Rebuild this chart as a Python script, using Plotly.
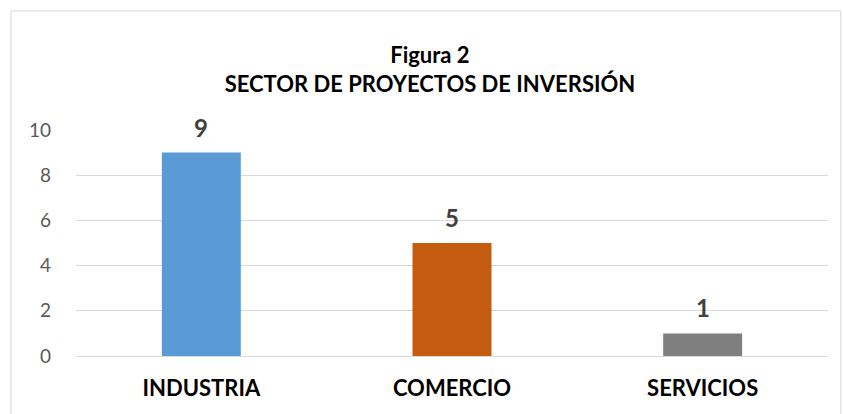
import plotly.graph_objects as go

# data
sectores = ["INDUSTRIA", "COMERCIO", "SERVICIOS"]
proyectos = [9, 5, 1]
colores = ["#5B9BD5", "#C55A11", "#7F7F7F"]
y_ticks = [0, 2, 4, 6, 8, 10]

FONT = "Lato, 'Open Sans', sans-serif"

fig = go.Figure(go.Bar(
    x=sectores,
    y=proyectos,
    marker=dict(color=colores, line=dict(width=0)),
    hoverinfo="x+y",
))

# value labels above bars (Excel leaves a wider gap than plotly's outside text)
for s, v in zip(sectores, proyectos):
    fig.add_annotation(
        x=s, y=v, text=str(v), showarrow=False,
        yanchor="bottom", yshift=9,
        font=dict(family=FONT, size=24, color="#404040", weight="bold"),
    )

fig.update_layout(
    width=843,
    height=414,
    margin=dict(l=76, r=15, t=130, b=58, autoexpand=False),
    paper_bgcolor="white",
    plot_bgcolor="white",
    showlegend=False,
    bargap=0.685,
    title=dict(
        text="Figura 2<br>SECTOR DE PROYECTOS DE INVERSIÓN",
        x=0.51, xanchor="center",
        y=1 - 63 / 414, yanchor="middle", yref="container",
        font=dict(family=FONT, size=22, color="#000000", weight="bold"),
    ),
    xaxis=dict(
        showgrid=False,
        showline=False,
        ticks="",
        automargin=False,
        tickfont=dict(family=FONT, size=22, color="#000000", weight="bold"),
        ticklabelstandoff=17,
    ),
    yaxis=dict(
        range=[0, 10],
        tickvals=y_ticks,
        showgrid=True,
        gridcolor="#D9D9D9",
        gridwidth=1,
        zeroline=True,
        zerolinecolor="#D9D9D9",
        zerolinewidth=1,
        showline=False,
        ticks="",
        automargin=False,
        tickfont=dict(family=FONT, size=19, color="#595959"),
        ticklabelstandoff=24,
    ),
    shapes=[dict(
        type="rect", xref="paper", yref="paper",
        x0=-0.0864, x1=1.017, y0=-0.28, y1=1.527,
        line=dict(color="#D9D9D9", width=1),
        fillcolor="rgba(0,0,0,0)",
        layer="below",
    )],
)

fig.write_html(
    "out.html",
    config={"displayModeBar": False},
    post_script="document.body.style.margin='0';",
)
